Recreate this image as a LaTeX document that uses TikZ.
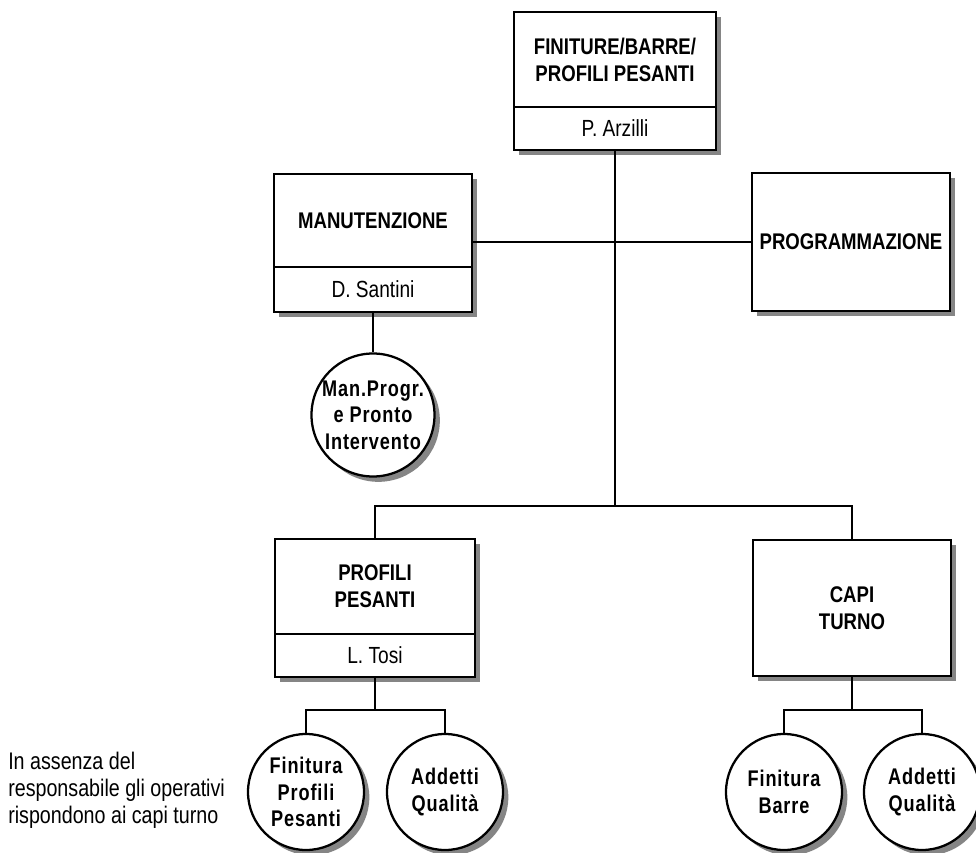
\documentclass[tikz,border=0pt]{standalone}
\usepackage{fontspec}
\setmainfont[FakeStretch=0.82]{Liberation Sans}
\newfontfamily\circfont[FakeStretch=0.8,LetterSpace=4]{Liberation Sans}
\usetikzlibrary{shadows}
\tikzset{
  shad/.style={drop shadow={shadow xshift=4pt,shadow yshift=-4pt,fill=black!60,opacity=0.8}},
  boxpart/.style={draw=black,line width=1.7pt,fill=white,shad,rectangle,inner sep=0pt,align=center},
  titlefont/.style={font=\bfseries\fontsize{17}{20.25}\selectfont},
  namefont/.style={font=\fontsize{17.5}{20}\selectfont},
  circ/.style={draw=black,line width=1.7pt,fill=white,shad,circle,inner sep=0pt,align=center,
    minimum size=116*0.75pt,font=\circfont\bfseries\fontsize{17}{20}\selectfont},
  conn/.style={line width=1.4pt,draw=black}
}
\begin{document}
\begin{tikzpicture}[x=0.75pt,y=-0.75pt]
\useasboundingbox (0,0) rectangle (976,853);
% top
\node[boxpart,titlefont,minimum width=202*0.75pt,minimum height=95*0.75pt] (toptitle) at (615,59.5) {FINITURE/BARRE/\\PROFILI PESANTI};
\node[boxpart,namefont,minimum width=202*0.75pt,minimum height=43*0.75pt] (topname) at (615,128.5) {P. Arzilli};
% manutenzione
\node[boxpart,titlefont,minimum width=198*0.75pt,minimum height=93*0.75pt] (manutitle) at (373,220.5) {MANUTENZIONE};
\node[boxpart,namefont,minimum width=198*0.75pt,minimum height=45*0.75pt] (manuname) at (373,289.5) {D. Santini};
% programmazione
\node[boxpart,titlefont,minimum width=198*0.75pt,minimum height=138*0.75pt] (prog) at (851,242) {PROGRAMMAZIONE};
% man circle
\node[circ,minimum size=108*0.75pt] (mancirc) at (373,415) {Man.Progr.\\e Pronto\\Intervento};
% profili
\node[boxpart,titlefont,minimum width=200*0.75pt,minimum height=95*0.75pt] (proftitle) at (375,586.5) {PROFILI\\PESANTI};
\node[boxpart,namefont,minimum width=200*0.75pt,minimum height=43*0.75pt] (profname) at (375,655.5) {L. Tosi};
% capi turno
\node[boxpart,titlefont,minimum width=198*0.75pt,minimum height=136*0.75pt] (capi) at (852,608) {CAPI\\TURNO};
% bottom circles
\node[circ] (c1) at (306,792) {Finitura\\Profili\\Pesanti};
\node[circ] (c2) at (445,792) {Addetti\\Qualità};
\node[circ] (c3) at (784,792) {Finitura\\Barre};
\node[circ] (c4) at (922,792) {Addetti\\Qualità};
% note
\node[anchor=west,align=left,inner sep=0pt,font=\fontsize{18}{20.25}\selectfont] (note) at (8,790)
  {In assenza del\\responsabile gli operativi\\rispondono ai capi turno};
% connectors
\coordinate (j1) at (topname.south |- proftitle.north);
\draw[conn] (topname.south) -- ([yshift=32*0.75pt]j1);
\draw[conn] (manutitle.east |- prog.west) -- (prog.west);
\draw[conn] (manuname.south) -- (mancirc.north);
\draw[conn] (proftitle.north) -- ++(0,-32) coordinate (h1) -| (capi.north);
\draw[conn] (profname.south) -- ++(0,32) coordinate (b1);
\draw[conn] (c1.north) |- (b1) -| (c2.north);
\draw[conn] (capi.south) -- ++(0,33) coordinate (b2);
\draw[conn] (c3.north) |- (b2) -| (c4.north);
\end{tikzpicture}
\end{document}
